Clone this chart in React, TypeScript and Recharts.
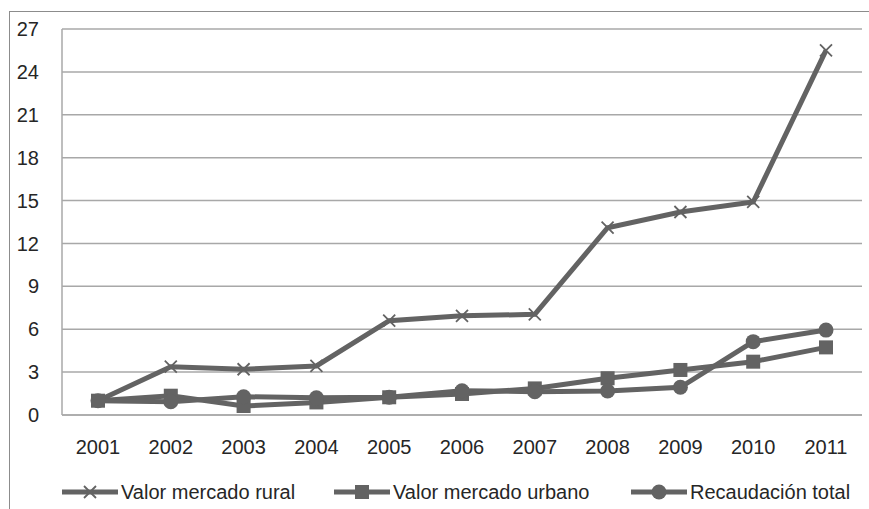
import React from "react";
import {
  LineChart,
  Line,
  XAxis,
  YAxis,
  CartesianGrid,
  Legend,
} from "recharts";

// Datos (índice base 2001 = 1)
const years = ["2001", "2002", "2003", "2004", "2005", "2006", "2007", "2008", "2009", "2010", "2011"];
const rural = [1.0, 3.38, 3.2, 3.43, 6.6, 6.94, 7.04, 13.1, 14.2, 14.9, 25.5];
const urbano = [1.0, 1.35, 0.63, 0.88, 1.24, 1.47, 1.86, 2.57, 3.15, 3.73, 4.73];
const recaudacion = [1.0, 0.93, 1.28, 1.2, 1.25, 1.7, 1.63, 1.68, 1.94, 5.13, 5.94];
const yTicks = [0, 3, 6, 9, 12, 15, 18, 21, 24, 27];

const SERIES_NAMES = ["Valor mercado rural", "Valor mercado urbano", "Recaudación total"];

const data = years.map((year, i) => ({
  year,
  rural: rural[i],
  urbano: urbano[i],
  recaudacion: recaudacion[i],
}));

const LINE_COLOR = "#636363";
const GRID_COLOR = "#a8a8a8";
const TEXT_COLOR = "#262626";
const FONT = "'Liberation Sans', Arial, sans-serif";

const drawMarker = (kind: string, cx: number, cy: number, key?: string) => {
  if (kind === "cross") {
    const s = 6;
    return (
      <path
        key={key}
        d={`M${cx - s},${cy - s}L${cx + s},${cy + s}M${cx - s},${cy + s}L${cx + s},${cy - s}`}
        stroke={LINE_COLOR}
        strokeWidth={1.8}
        fill="none"
      />
    );
  }
  if (kind === "square") {
    return <rect key={key} x={cx - 7} y={cy - 7} width={14} height={14} fill={LINE_COLOR} />;
  }
  return <circle key={key} cx={cx} cy={cy} r={7.5} fill={LINE_COLOR} />;
};

const dotFor = (kind: string) => (props: any) => {
  const { cx, cy, index } = props;
  if (cx == null || cy == null) return <g key={`d-${index}`} />;
  return drawMarker(kind, cx, cy, `${kind}-${index}`);
};

const MARKERS = ["cross", "square", "circle"];
const LEGEND_X = [62, 334, 631];

const renderLegend = (props: any) => {
  // keep the series order, whatever order recharts hands the payload in
  const items = [...(props.payload || [])].sort(
    (a: any, b: any) => SERIES_NAMES.indexOf(a.value) - SERIES_NAMES.indexOf(b.value)
  );
  return (
    <svg width={869} height={54} style={{ display: "block" }}>
      {items.map((entry: any, i: number) => {
        const x0 = LEGEND_X[i];
        const cy = 37;
        return (
          <g key={`leg-${i}`}>
            <line x1={x0} y1={cy} x2={x0 + 56} y2={cy} stroke={LINE_COLOR} strokeWidth={5} />
            {drawMarker(MARKERS[i], x0 + 28, cy)}
            <text
              x={x0 + 59}
              y={cy + 7}
              fontFamily={FONT}
              fontSize={20}
              fill={TEXT_COLOR}
            >
              {entry.value}
            </text>
          </g>
        );
      })}
    </svg>
  );
};

export default function App() {
  return (
    <div style={{ position: "absolute", left: 0, top: 0, width: 869, height: 509, background: "#fff" }}>
      <div
        style={{
          position: "absolute",
          left: 9,
          top: 11,
          right: 0,
          bottom: 0,
          borderLeft: "1.5px solid #8c8c8c",
          borderTop: "1.5px solid #8c8c8c",
        }}
      />
      <LineChart
        width={869}
        height={509}
        data={data}
        margin={{ top: 29, right: 7, bottom: 0, left: 0 }}
        style={{ position: "absolute", left: 0, top: 0 }}
      >
        <CartesianGrid vertical={false} stroke={GRID_COLOR} strokeWidth={1.5} />
        <XAxis
          dataKey="year"
          height={40}
          tickLine={false}
          tickSize={0}
          tickMargin={25}
          axisLine={{ stroke: GRID_COLOR, strokeWidth: 1.5 }}
          padding={{ left: 36, right: 36 }}
          tick={{ fill: TEXT_COLOR, fontSize: 20, fontFamily: FONT }}
          interval={0}
        />
        <YAxis
          width={62}
          domain={[0, 27]}
          ticks={yTicks}
          tickLine={false}
          tickSize={0}
          tickMargin={23}
          axisLine={{ stroke: GRID_COLOR, strokeWidth: 1.5 }}
          tick={{ fill: TEXT_COLOR, fontSize: 20, fontFamily: FONT }}
          interval={0}
        />
        <Legend verticalAlign="bottom" content={renderLegend} wrapperStyle={{ left: 0, bottom: 0, width: 869, height: 54 }} />
        <Line
          type="linear"
          dataKey="rural"
          name={SERIES_NAMES[0]}
          stroke={LINE_COLOR}
          strokeWidth={5}
          dot={dotFor("cross")}
          activeDot={false}
          isAnimationActive={false}
        />
        <Line
          type="linear"
          dataKey="urbano"
          name={SERIES_NAMES[1]}
          stroke={LINE_COLOR}
          strokeWidth={5}
          dot={dotFor("square")}
          activeDot={false}
          isAnimationActive={false}
        />
        <Line
          type="linear"
          dataKey="recaudacion"
          name={SERIES_NAMES[2]}
          stroke={LINE_COLOR}
          strokeWidth={5}
          dot={dotFor("circle")}
          activeDot={false}
          isAnimationActive={false}
        />
      </LineChart>
    </div>
  );
}
